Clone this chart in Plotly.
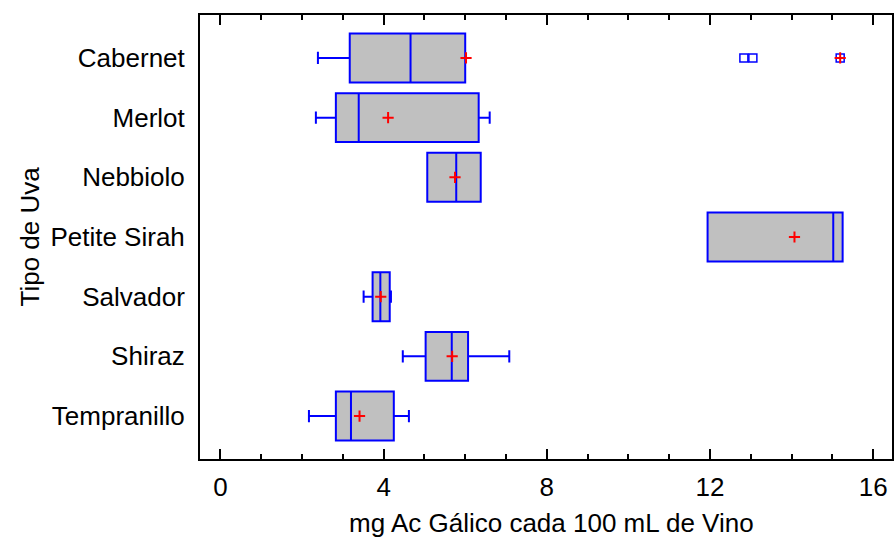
import plotly.graph_objects as go

categories = ["Cabernet", "Merlot", "Nebbiolo", "Petite Sirah", "Salvador", "Shiraz", "Tempranillo"]
lower_whisker = [2.39, 2.34, 5.07, 11.94, 3.51, 4.47, 2.17]
q1_values = [3.17, 2.83, 5.07, 11.94, 3.73, 5.03, 2.83]
median_values = [4.66, 3.39, 5.78, 15.02, 3.92, 5.67, 3.20]
q3_values = [6.00, 6.33, 6.38, 15.25, 4.15, 6.07, 4.25]
upper_whisker = [6.00, 6.60, 6.38, 15.25, 4.18, 7.08, 4.62]
mean_values = [6.02, 4.11, 5.75, 14.07, 3.93, 5.68, 3.41]

outlier_cat = ["Cabernet", "Cabernet", "Cabernet"]
outlier_val = [12.83, 13.05, 15.19]
far_outlier_cat = ["Cabernet"]
far_outlier_val = [15.19]

x_ticks = [0, 4, 8, 12, 16]

FONT = "Liberation Sans, Arial, sans-serif"
FS = 26
BLUE = "#0000FF"
RED = "#FF0000"

fig = go.Figure()
fig.add_trace(go.Box(
    orientation="h",
    y=categories,
    q1=q1_values,
    median=median_values,
    q3=q3_values,
    lowerfence=lower_whisker,
    upperfence=upper_whisker,
    fillcolor="#C0C0C0",
    line=dict(color=BLUE, width=2),
    whiskerwidth=0.25,
    boxpoints=False,
    showlegend=False,
    hoverinfo="skip",
))
fig.add_trace(go.Scatter(
    x=outlier_val, y=outlier_cat, mode="markers",
    marker=dict(symbol="square-open", size=8, color=BLUE, line=dict(width=1.5, color=BLUE)),
    showlegend=False, hoverinfo="skip",
))
fig.add_trace(go.Scatter(
    x=far_outlier_val, y=far_outlier_cat, mode="markers",
    marker=dict(symbol="cross-thin", size=8, color=RED, line=dict(width=2, color=RED)),
    showlegend=False, hoverinfo="skip",
))
fig.add_trace(go.Scatter(
    x=mean_values, y=categories, mode="markers",
    marker=dict(symbol="cross-thin", size=8, color=RED, line=dict(width=2, color=RED)),
    showlegend=False, hoverinfo="skip",
))

fig.update_layout(
    width=896, height=539,
    margin=dict(l=200, r=2, t=15, b=80),
    paper_bgcolor="white", plot_bgcolor="white",
    font=dict(family=FONT, size=FS, color="black"),
    boxmode="overlay", boxgap=0.18, boxgroupgap=0,
    annotations=[
        dict(text="mg Ac Gálico cada 100 mL de Vino", xref="paper", yref="paper",
             x=(553 - 200) / 694, y=(459 - 523) / 444, xanchor="center", yanchor="middle",
             showarrow=False, font=dict(family=FONT, size=FS)),
        dict(text="Tipo de Uva", xref="paper", yref="paper", textangle=-90,
             x=(30 - 200) / 694, y=(459 - 236) / 444, xanchor="center", yanchor="middle",
             showarrow=False, font=dict(family=FONT, size=FS)),
    ],
)
fig.update_xaxes(
    range=[-0.5, 16.46],
    tickvals=x_ticks, ticktext=[str(v) for v in x_ticks],
    ticks="inside", ticklen=10, tickwidth=2, tickcolor="black",
    minor=dict(dtick=1, tick0=0, ticks="inside", ticklen=5, tickwidth=2, tickcolor="black"),
    showline=True, linecolor="black", linewidth=2, mirror="ticks",
    showgrid=False, zeroline=False,
    ticklabelstandoff=4,
)
fig.update_yaxes(
    type="category", categoryorder="array", categoryarray=categories,
    range=[6.72, -0.72],
    ticks="", showline=True, linecolor="black", linewidth=2, mirror=True,
    showgrid=False, zeroline=False,
    ticklabelstandoff=8,
)

fig.write_html(
    "out.html",
    config={"displayModeBar": False, "staticPlot": True},
    post_script="document.body.style.margin='0';document.body.style.overflow='hidden';",
)
